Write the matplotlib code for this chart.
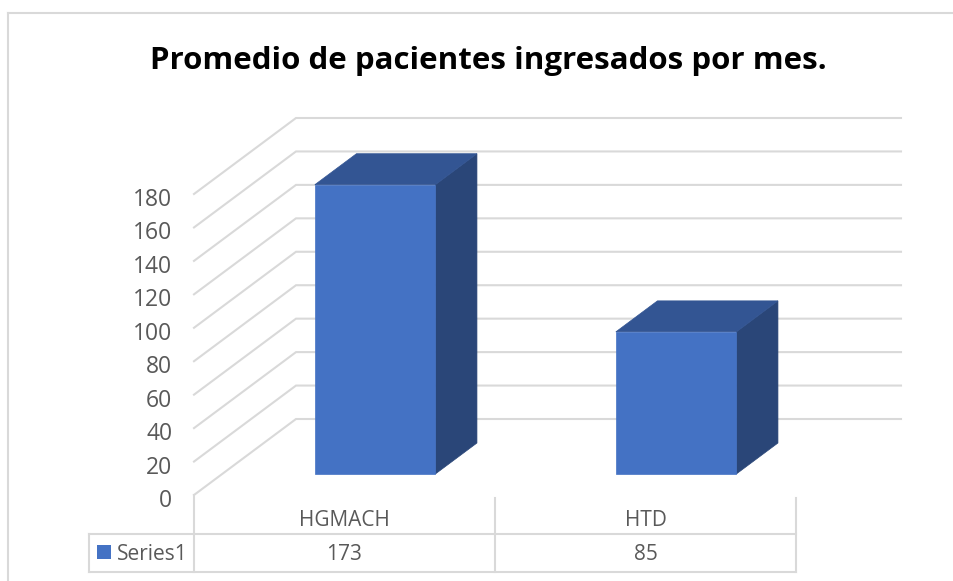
# Promedio de pacientes - 3D style column chart with data table
import numpy as np
import matplotlib
matplotlib.use("Agg")
import matplotlib.pyplot as plt
from matplotlib.patches import Polygon, Rectangle
from matplotlib.transforms import ScaledTranslation

plt.rcParams['font.family'] = ['Open Sans', 'DejaVu Sans']

# Data
categories = ['HGMACH', 'HTD']
values = [173, 85]
series_name = 'Series1'
y_ticks = [0, 20, 40, 60, 80, 100, 120, 140, 160, 180]
title = 'Promedio de pacientes ingresados por mes.'

# Colors
grid_col = '#d9d9d9'
text_col = '#595959'
front_col = '#4472c4'
top_col = '#335593'
side_col = '#2a4678'

W, H = 954, 581
fig = plt.figure(figsize=(W / 100, H / 100), dpi=100)
ax = fig.add_axes([194 / W, (H - 495) / H, 602 / W, 301 / H])
ax.set_xlim(0, 2)
ax.set_ylim(0, 180)
for s in ax.spines.values():
    s.set_visible(False)
ax.patch.set_visible(False)
ax.set_xticks([])
ax.set_yticks(y_ticks)
ax.tick_params(axis='y', length=0, pad=15.5, labelsize=16.5, labelcolor=text_col)
# labels sit a bit below their gridline ends
shift = ScaledTranslation(0, -3 / 100, fig.dpi_scale_trans)
for t in ax.get_yticklabels():
    t.set_transform(t.get_transform() + shift)

# depth offset of the oblique projection, in data units
DX = 102 / 301
DY = 76 / (301 / 180)


def proj(x, y, d):
    return x + d * DX, y + d * DY


# walls
wall_right = (901 - 194 - 102) / 301
for v in y_ticks:
    x0, y0 = proj(0, v, 0)
    x1, y1 = proj(0, v, 1)
    x2, y2 = proj(wall_right, v, 1)
    ax.plot([x0, x1, x2], [y0, y1, y2], color=grid_col, lw=1.5, clip_on=False,
            solid_joinstyle='miter', zorder=1)

# bars
bar_w = 120.5 / 301
d0, d1 = 21 / 76, 52 / 76
for i, v in enumerate(values):
    xl = i + 0.508 - bar_w / 2
    xr = xl + bar_w
    front = [proj(xl, 0, d0), proj(xr, 0, d0), proj(xr, v, d0), proj(xl, v, d0)]
    side = [proj(xr, 0, d0), proj(xr, 0, d1), proj(xr, v, d1), proj(xr, v, d0)]
    top = [proj(xl, v, d0), proj(xr, v, d0), proj(xr, v, d1), proj(xl, v, d1)]
    ax.add_patch(Polygon(side, fc=side_col, ec=side_col, lw=0.5, clip_on=False, zorder=3))
    ax.add_patch(Polygon(top, fc=top_col, ec=top_col, lw=0.5, clip_on=False, zorder=3))
    ax.add_patch(Polygon(front, fc=front_col, ec=front_col, lw=0.5, clip_on=False, zorder=4))

# data table
px = 180 / 301
row_top = -38.5 * px
row_bot = -77 * px
leg_left = -105 / 301
ax.plot([leg_left, 2], [row_top, row_top], color=grid_col, lw=1.5, clip_on=False)
ax.plot([leg_left, 2], [row_bot, row_bot], color=grid_col, lw=1.5, clip_on=False)
ax.plot([leg_left, leg_left], [row_top, row_bot], color=grid_col, lw=1.5, clip_on=False)
ax.plot([0, 0], [0, row_bot], color=grid_col, lw=1.5, clip_on=False)
ax.plot([1, 1], [-1.5, row_bot], color=grid_col, lw=1.5, clip_on=False)
ax.plot([2, 2], [-1.5, row_bot], color=grid_col, lw=1.5, clip_on=False)
for i, c in enumerate(categories):
    ax.text(i + 0.5, -26 * px, c, ha='center', va='center', fontsize=15, color=text_col)
    ax.text(i + 0.5, -59 * px, str(values[i]), ha='center', va='center', fontsize=15, color=text_col)
ax.add_patch(Rectangle((-97 / 301, -64 * px), 14 / 301, 14 * px, fc=front_col, ec='none', clip_on=False))
ax.text(-77.5 / 301, -59 * px, series_name, ha='left', va='center', fontsize=15, color=text_col)

# chart frame, only top and left visible in the crop
fig.add_artist(plt.Line2D([8 / W, 8 / W], [0, 1 - 13 / H], color=grid_col, lw=1.5))
fig.add_artist(plt.Line2D([8 / W, 1], [1 - 13 / H, 1 - 13 / H], color=grid_col, lw=1.5))

fig.text(488 / W, 1 - 61 / H, title, ha='center', va='center', fontsize=22.5,
         fontweight='bold', color='black')

fig.savefig('out.png', dpi=100)
